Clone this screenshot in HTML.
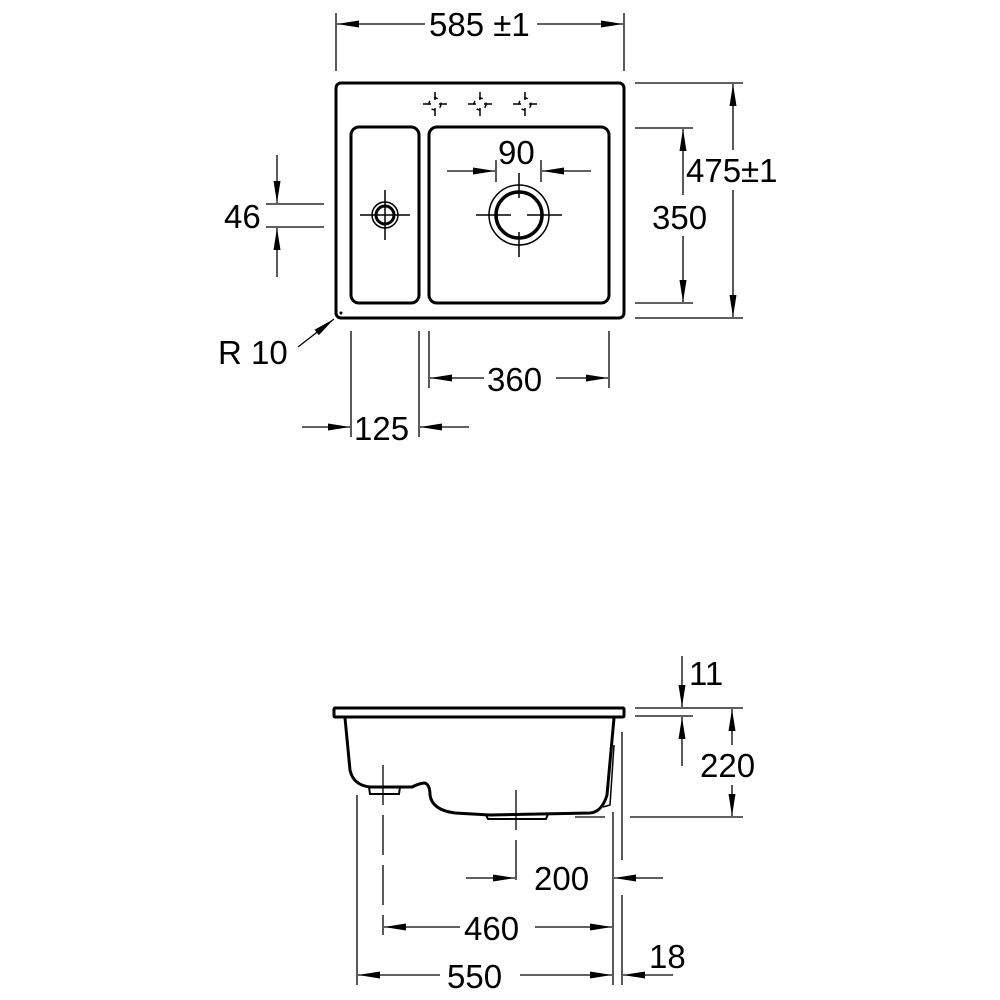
<!DOCTYPE html>
<html><head><meta charset="utf-8"><style>
html,body{margin:0;padding:0;background:#fff}
svg{display:block}
text{font-family:"Liberation Sans",Arial,sans-serif;fill:#000}
</style></head><body>
<svg width="1000" height="1000" viewBox="0 0 1000 1000" xmlns="http://www.w3.org/2000/svg">
<defs>
<marker id="a" viewBox="0 0 22 8" refX="22" refY="4" markerWidth="22" markerHeight="8" markerUnits="userSpaceOnUse" orient="auto"><path d="M0,0.5 L22,4 L0,7.5 z" fill="#000"/></marker>
</defs>
<g stroke="#000" fill="none">
<rect x="336" y="83" width="288" height="235" rx="5" stroke-width="3"/>
<rect x="351" y="127" width="68" height="176" rx="8" stroke-width="3"/>
<rect x="429" y="127" width="180" height="176" rx="8" stroke-width="3"/>
<g stroke-width="1.5">
<g transform="translate(435,104)"><circle r="6" stroke-dasharray="4 5"/><path d="M-12,0h8M4,0h8M0,-12v8M0,4v8"/></g>
<g transform="translate(480,104)"><circle r="6" stroke-dasharray="4 5"/><path d="M-12,0h8M4,0h8M0,-12v8M0,4v8"/></g>
<g transform="translate(525,104)"><circle r="6" stroke-dasharray="4 5"/><path d="M-12,0h8M4,0h8M0,-12v8M0,4v8"/></g>
</g>
<circle cx="385" cy="215" r="13" stroke-width="1.5"/>
<circle cx="385" cy="215" r="9" stroke-width="3"/>
<path d="M360,215h50M385,190v50" stroke-width="1.5"/>
<circle cx="519" cy="215" r="30" stroke-width="1.5"/>
<circle cx="519" cy="215" r="23" stroke-width="3.5"/>
<path d="M476,215h35M527,215h35M519,173v25M519,232v25" stroke-width="1.5"/>
<g stroke-width="1.3">
<path d="M336,13v58M624,13v58"/>
<path d="M425,24H337" marker-end="url(#a)"/>
<path d="M537,24H623" marker-end="url(#a)"/>
<path d="M635,83h108M635,318h108M635,128h58M635,303h58"/>
<path d="M733,150V84" marker-end="url(#a)"/>
<path d="M733,190V317" marker-end="url(#a)"/>
<path d="M683,195V129" marker-end="url(#a)"/>
<path d="M683,236V302" marker-end="url(#a)"/>
<path d="M496,160v22M541,160v22"/>
<path d="M447,171H495" marker-end="url(#a)"/>
<path d="M591,171H542" marker-end="url(#a)"/>
<path d="M266,204h58M266,227h58"/>
<path d="M277,155V203" marker-end="url(#a)"/>
<path d="M277,277V228" marker-end="url(#a)"/>
<path d="M298,347L334,319" marker-end="url(#a)"/>
<path d="M351,331v106M419,331v106M429,331v57M609,331v57"/>
<path d="M302,427H350" marker-end="url(#a)"/>
<path d="M469,427H420" marker-end="url(#a)"/>
<path d="M484,378H430" marker-end="url(#a)"/>
<path d="M556,378H608" marker-end="url(#a)"/>
</g>
<circle cx="341" cy="313" r="1" fill="#000"/>
<rect x="334" y="708" width="290" height="9" rx="1" stroke-width="3"/>
<path d="M345,718 L350,770 Q353,785 370,787 L412,787 Q420,783 425,783 Q430,785 430,795 Q432,810 455,813 L490,815 L590,813 Q602,812 607,795 L614,718" stroke-width="3"/>
<path d="M614,745 L610,805 L603,807" stroke-width="1.5"/>
<path d="M369,787 L370,794 L399,794 L400,787" stroke-width="2"/>
<path d="M486,815 L488,819 L546,819 L548,814" stroke-width="2"/>
<g stroke-width="1.3">
<path d="M383,765V935M516,790V880" stroke-dasharray="40 10"/>
<path d="M357,795V985M613,812V985M622,732V860M622,895V985"/>
<path d="M635,708h108M635,716h58M630,817h113M575,817h30"/>
<path d="M682,656V707" marker-end="url(#a)"/>
<path d="M682,766V717" marker-end="url(#a)"/>
<path d="M732,745V709" marker-end="url(#a)"/>
<path d="M732,785V816" marker-end="url(#a)"/>
<path d="M466,878H515" marker-end="url(#a)"/>
<path d="M663,878H614" marker-end="url(#a)"/>
<path d="M460,927H384" marker-end="url(#a)"/>
<path d="M535,927H612" marker-end="url(#a)"/>
<path d="M440,975H358" marker-end="url(#a)"/>
<path d="M520,975H612" marker-end="url(#a)"/>
<path d="M673,975H623" marker-end="url(#a)"/>
</g>
</g>
<g font-size="33">
<text x="429" y="36">585 ±1</text>
<text x="498" y="164">90</text>
<text x="686" y="182">475±1</text>
<text x="652" y="229">350</text>
<text x="224" y="228">46</text>
<text x="218" y="364">R 10</text>
<text x="487" y="391">360</text>
<text x="354" y="440">125</text>
<text x="689" y="685">11</text>
<text x="700" y="777">220</text>
<text x="534" y="890">200</text>
<text x="464" y="940">460</text>
<text x="447" y="988">550</text>
<text x="649" y="968">18</text>
</g>
</svg>
</body></html>
